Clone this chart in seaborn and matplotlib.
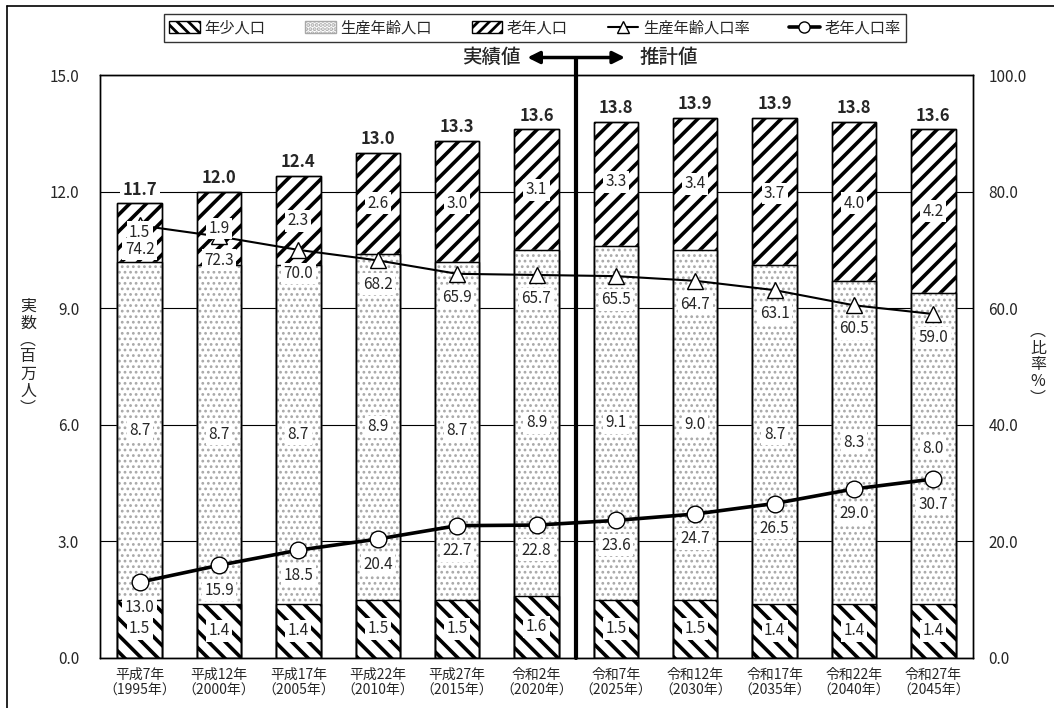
import numpy as np
import pandas as pd
import matplotlib
matplotlib.use("Agg")
import matplotlib.pyplot as plt
from matplotlib.lines import Line2D
from matplotlib.patches import Patch
import seaborn as sns

# ---- data ----
years = ["平成7年\n（1995年）", "平成12年\n（2000年）", "平成17年\n（2005年）",
         "平成22年\n（2010年）", "平成27年\n（2015年）", "令和2年\n（2020年）",
         "令和7年\n（2025年）", "令和12年\n（2030年）", "令和17年\n（2035年）",
         "令和22年\n（2040年）", "令和27年\n（2045年）"]
young = [1.5, 1.4, 1.4, 1.5, 1.5, 1.6, 1.5, 1.5, 1.4, 1.4, 1.4]
working = [8.7, 8.7, 8.7, 8.9, 8.7, 8.9, 9.1, 9.0, 8.7, 8.3, 8.0]
elderly = [1.5, 1.9, 2.3, 2.6, 3.0, 3.1, 3.3, 3.4, 3.7, 4.0, 4.2]
total = [11.7, 12.0, 12.4, 13.0, 13.3, 13.6, 13.8, 13.9, 13.9, 13.8, 13.6]
working_rate = [74.2, 72.3, 70.0, 68.2, 65.9, 65.7, 65.5, 64.7, 63.1, 60.5, 59.0]
elderly_rate = [13.0, 15.9, 18.5, 20.4, 22.7, 22.8, 23.6, 24.7, 26.5, 29.0, 30.7]

df = pd.DataFrame({"year": years, "young": young, "working": working,
                   "elderly": elderly, "total": total,
                   "wrate": working_rate, "erate": elderly_rate})
df["yw"] = df["young"] + df["working"]
df["pos"] = np.arange(len(df))

sns.set_style("white")
plt.rcParams["font.family"] = ["Noto Sans CJK JP", "DejaVu Sans"]

fig = plt.figure(figsize=(10.54, 7.08), dpi=100)
ax = fig.add_axes([100 / 1054, 1 - 658 / 708, 873 / 1054, 583 / 708])

W = 0.56
DOT = "#a8a8a8"


def hatch_lw(a, n0, lw):
    # set the hatch stroke width of the bars added since index n0
    for p in a.patches[n0:]:
        if hasattr(p, "set_hatch_linewidth"):
            p.set_hatch_linewidth(lw)


# stacked bars by overlaying cumulative heights
plt.rcParams["hatch.linewidth"] = 2.6
n0 = len(ax.patches)
sns.barplot(data=df, x="year", y="total", color="white", edgecolor="black",
            hatch="//", linewidth=1.0, width=W, ax=ax, zorder=2)
hatch_lw(ax, n0, 2.6)
plt.rcParams["hatch.linewidth"] = 1.2
n0 = len(ax.patches)
sns.barplot(data=df, x="year", y="yw", color="white", edgecolor=DOT,
            hatch="...", linewidth=1.0, width=W, ax=ax, zorder=3)
hatch_lw(ax, n0, 1.2)
plt.rcParams["hatch.linewidth"] = 2.6
n0 = len(ax.patches)
sns.barplot(data=df, x="year", y="young", color="white", edgecolor="black",
            hatch="\\\\", linewidth=1.0, width=W, ax=ax, zorder=4)
hatch_lw(ax, n0, 2.6)
# outlines
sns.barplot(data=df, x="year", y="yw", color="black", fill=False,
            linewidth=1.0, width=W, ax=ax, zorder=5)
sns.barplot(data=df, x="year", y="total", color="black", fill=False,
            linewidth=1.0, width=W, ax=ax, zorder=5)

ax.set_ylim(0, 15)
ax.set_xlim(-0.5, len(df) - 0.5)
ax.set_yticks(np.arange(0, 15.1, 3))
ax.set_yticklabels([f"{v:.1f}" for v in np.arange(0, 15.1, 3)], fontsize=11)
ax.set_xlabel("")
ax.set_ylabel("")
ax.tick_params(axis="x", length=0, pad=7, labelsize=10)
ax.tick_params(axis="y", length=0, pad=15)
ax.yaxis.grid(True, color="black", linewidth=0.8)
ax.set_axisbelow(True)
for s in ax.spines.values():
    s.set_color("black")
    s.set_linewidth(1.0)

# rates on the right axis
ax2 = ax.twinx()
sns.lineplot(data=df, x="pos", y="wrate", color="black", linewidth=1.5,
             marker="^", markersize=12, markerfacecolor="white",
             markeredgecolor="black", markeredgewidth=1.0, ax=ax2, zorder=6)
sns.lineplot(data=df, x="pos", y="erate", color="black", linewidth=2.6,
             marker="o", markersize=12, markerfacecolor="white",
             markeredgecolor="black", markeredgewidth=1.0, ax=ax2, zorder=6)
ax2.set_ylim(0, 100)
ax2.set_yticks(np.arange(0, 100.1, 20))
ax2.set_yticklabels([f"{v:.1f}" for v in np.arange(0, 100.1, 20)], fontsize=11)
ax2.tick_params(axis="y", length=0, pad=11)
ax2.set_ylabel("")
ax2.set_xlabel("")
ax2.set_xlim(-0.5, len(df) - 0.5)
for s in ax2.spines.values():
    s.set_color("black")
    s.set_linewidth(1.0)

box = dict(facecolor="white", edgecolor="none", pad=1.8)
for i, r in df.iterrows():
    ax2.text(i, r["young"] / 2, f"{r['young']:.1f}", transform=ax.transData,
             ha="center", va="center", fontsize=11, bbox=box, zorder=8)
    ax2.text(i, r["young"] + r["working"] / 2, f"{r['working']:.1f}",
             transform=ax.transData, ha="center", va="center", fontsize=11,
             bbox=box, zorder=8)
    ax2.text(i, r["yw"] + r["elderly"] / 2, f"{r['elderly']:.1f}",
             transform=ax.transData, ha="center", va="center", fontsize=11,
             bbox=box, zorder=8)
    ax2.text(i, r["total"] + 0.12, f"{r['total']:.1f}", transform=ax.transData,
             ha="center", va="bottom", fontsize=12, fontweight="bold",
             bbox=dict(facecolor="white", edgecolor="none", pad=2), zorder=8)
    ax2.annotate(f"{r['wrate']:.1f}", (i, r["wrate"]), xytext=(0, -17),
                 textcoords="offset points", ha="center", va="center",
                 fontsize=11, bbox=box, zorder=8)
    ax2.annotate(f"{r['erate']:.1f}", (i, r["erate"]), xytext=(0, -18),
                 textcoords="offset points", ha="center", va="center",
                 fontsize=11, bbox=box, zorder=8)

# divider between actual and projected values
div_x = 5.5
ax2.plot([div_x, div_x], [0, 15.45], transform=ax.transData, color="black",
         linewidth=3, clip_on=False, zorder=9)
ax2.annotate("", xy=(4.85, 15.45), xytext=(6.15, 15.45), xycoords=ax.transData,
             textcoords=ax.transData,
             arrowprops=dict(arrowstyle="<|-|>", color="black", lw=2.5,
                             mutation_scale=18), annotation_clip=False)
ax2.text(4.8, 15.45, "実績値", transform=ax.transData, ha="right",
         va="center", fontsize=14, fontweight="medium")
ax2.text(6.3, 15.45, "推計値", transform=ax.transData, ha="left",
         va="center", fontsize=14, fontweight="medium")

# axis titles written vertically
fig.text(28 / 1054, 1 - 357 / 708, "実\n数\n︵\n百\n万\n人\n︶", ha="center",
         va="center", fontsize=11.5, linespacing=1.0)
fig.text(1038 / 1054, 1 - 365 / 708, "︵\n比\n率\n%\n︶", ha="center",
         va="center", fontsize=11.5, linespacing=1.0)

# legend
plt.rcParams["hatch.linewidth"] = 2.0
handles = [
    Patch(facecolor="white", edgecolor="black", hatch="\\\\\\", label="年少人口"),
    Patch(facecolor="white", edgecolor=DOT, hatch="....", label="生産年齢人口"),
    Patch(facecolor="white", edgecolor="black", hatch="///", label="老年人口"),
    Line2D([], [], color="black", lw=1.5, marker="^", markersize=8,
           markerfacecolor="white", label="生産年齢人口率"),
    Line2D([], [], color="black", lw=2.6, marker="o", markersize=8,
           markerfacecolor="white", label="老年人口率"),
]
leg = fig.legend(handles=handles, loc="center", ncol=5,
                 bbox_to_anchor=(535 / 1054, 1 - 28 / 708), frameon=True,
                 fancybox=False, edgecolor="black", fontsize=11,
                 handlelength=2.0, handleheight=0.8, handletextpad=0.3,
                 columnspacing=2.6, borderpad=0.35)
leg.get_frame().set_linewidth(1.0)

# outer frame (left and top edges visible)
fig.add_artist(Line2D([7 / 1054, 7 / 1054], [0, 1 - 6 / 708],
                      transform=fig.transFigure, color="black", lw=1.2))
fig.add_artist(Line2D([7 / 1054, 1], [1 - 6 / 708, 1 - 6 / 708],
                      transform=fig.transFigure, color="black", lw=1.2))

fig.savefig("out.png", dpi=100)
